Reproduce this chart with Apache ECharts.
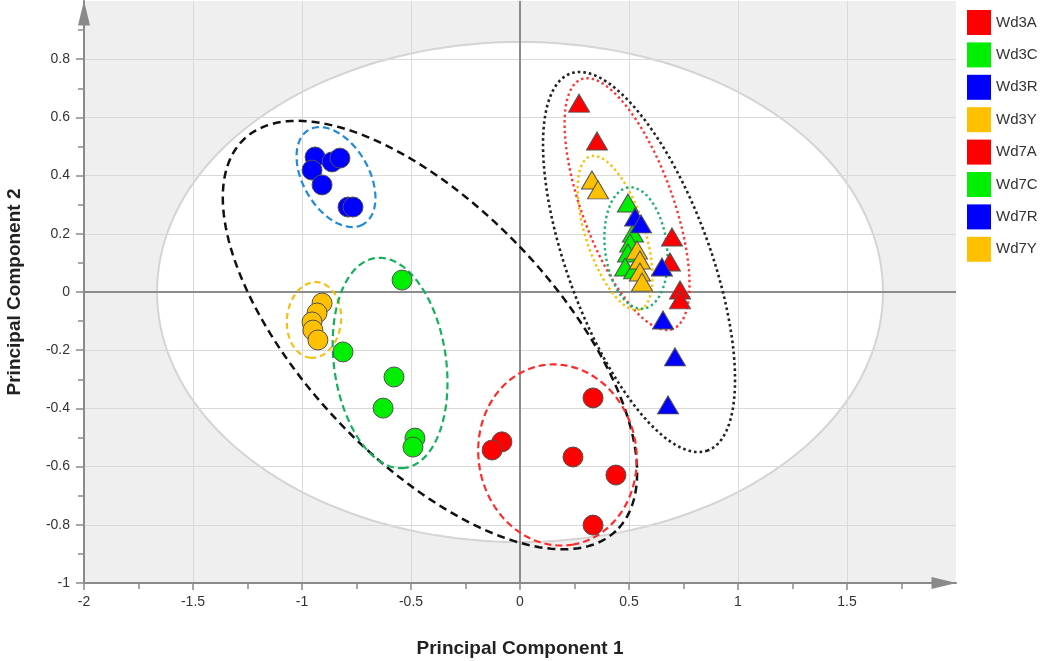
<!DOCTYPE html>
<html>
<head>
<meta charset="utf-8">
<script src="https://cdn.jsdelivr.net/npm/echarts@6/dist/echarts.min.js"></script>
<style>html,body{margin:0;padding:0;background:#fff}#c{width:1050px;height:661px}</style>
</head>
<body>
<div id="c"></div>
<script>
// ---- Data (PC1, PC2) ----
const seriesNames = ['Wd3A','Wd3C','Wd3R','Wd3Y','Wd7A','Wd7C','Wd7R','Wd7Y'];
const wd3A = [[0.335,-0.364],[-0.083,-0.515],[-0.128,-0.543],[0.243,-0.567],[0.440,-0.629],[0.335,-0.801]];
const wd3C = [[-0.541,0.041],[-0.812,-0.206],[-0.578,-0.292],[-0.628,-0.399],[-0.482,-0.502],[-0.491,-0.533]];
const wd3R = [[-0.940,0.464],[-0.862,0.447],[-0.826,0.460],[-0.954,0.419],[-0.908,0.368],[-0.789,0.292],[-0.766,0.292]];
const wd3Y = [[-0.908,-0.038],[-0.931,-0.072],[-0.954,-0.103],[-0.950,-0.131],[-0.927,-0.165]];
const wd7A = [[0.271,0.649],[0.353,0.519],[0.697,0.189],[0.688,0.103],[0.734,0.007],[0.734,-0.027]];
const wd7C = [[0.495,0.306],[0.518,0.203],[0.505,0.168],[0.495,0.134],[0.482,0.086],[0.523,0.076]];
const wd7R = [[0.528,0.258],[0.555,0.234],[0.651,0.086],[0.656,-0.096],[0.711,-0.223],[0.679,-0.388]];
const wd7Y = [[0.330,0.385],[0.358,0.351],[0.537,0.144],[0.550,0.110],[0.550,0.069],[0.560,0.034]];

// confidence ellipses: [centerX, centerY, semiMajor, semiMinor (in PC1 units), angle deg]
const hotellingEllipse = [[0, 0, 1.665, 1.147, 0]];
const groupEllipses = [
  [-0.413,-0.148,1.239,0.578,46.5], // Wd3 all
  [-0.844, 0.395,0.250,0.151,60],   // Wd3R
  [-0.945,-0.096,0.174,0.124,95],   // Wd3Y
  [-0.596,-0.244,0.486,0.257,82],   // Wd3C
  [ 0.172,-0.560,0.417,0.362,80],   // Wd3A
  [ 0.546, 0.103,0.920,0.328,70],   // Wd7 all
  [ 0.491, 0.302,0.610,0.209,70],   // Wd7A
  [ 0.436, 0.203,0.369,0.135,72],   // Wd7Y
  [ 0.532, 0.151,0.280,0.142,83]    // Wd7C
];
const xTicks = {min:-2, max:2, interval:0.5};
const yTicks = {min:-1, max:1, interval:0.2};
const xTickValues = [-2,-1.5,-1,-0.5,0,0.5,1,1.5];
const yTickValues = [-1,-0.8,-0.6,-0.4,-0.2,0,0.2,0.4,0.6,0.8];

// ---- Styles ----
const ellipseStyles = [
  {stroke:'#111111', lineWidth:2.5, lineDash:[8,5]},
  {stroke:'#1f8ad8', lineWidth:2.2, lineDash:[7,4]},
  {stroke:'#f4c010', lineWidth:2.2, lineDash:[6,4]},
  {stroke:'#14b05c', lineWidth:2.2, lineDash:[7,4]},
  {stroke:'#ff2a2a', lineWidth:2.2, lineDash:[7,4]},
  {stroke:'#222222', lineWidth:2.6, lineDash:[2.6,3]},
  {stroke:'#ff3535', lineWidth:2.4, lineDash:[2.4,3]},
  {stroke:'#f6c200', lineWidth:2.4, lineDash:[2.4,3]},
  {stroke:'#1cb070', lineWidth:2.4, lineDash:[2.4,3]}
];
const colors = {Wd3A:'#ff0000',Wd3C:'#00ee00',Wd3R:'#0000ff',Wd3Y:'#ffc000',Wd7A:'#ff0000',Wd7C:'#00ee00',Wd7R:'#0000ff',Wd7Y:'#ffc000'};
const seriesData = {Wd3A:wd3A,Wd3C:wd3C,Wd3R:wd3R,Wd3Y:wd3Y,Wd7A:wd7A,Wd7C:wd7C,Wd7R:wd7R,Wd7Y:wd7Y};

function ellipsePoints(api) {
  const cx = api.value(0), cy = api.value(1), a = api.value(2), b = api.value(3);
  const ang = api.value(4) * Math.PI / 180;
  const c = api.coord([cx, cy]);
  const s = api.size([1, 0])[0];
  const pts = [];
  const N = 180;
  for (let i = 0; i < N; i++) {
    const t = i / N * 2 * Math.PI;
    const u = a * s * Math.cos(t), v = b * s * Math.sin(t);
    pts.push([c[0] + u * Math.cos(ang) - v * Math.sin(ang), c[1] + u * Math.sin(ang) + v * Math.cos(ang)]);
  }
  return pts;
}

const series = [];
series.push({
  type:'custom', z:0, silent:true, data:hotellingEllipse, dimensions:['x','y','a','b','ang'],
  encode:{x:0,y:1},
  renderItem:function(params, api){
    return {type:'polygon', shape:{points:ellipsePoints(api)}, style:{fill:'#ffffff', stroke:'#d4d4d4', lineWidth:2}};
  }
});
series.push({
  type:'custom', z:1.5, silent:true, data:[[0,0]], encode:{x:0,y:1},
  renderItem:function(params, api){
    const cs = params.coordSys;
    const c = api.coord([api.value(0), api.value(1)]);
    const st = {stroke:'#8c8c8c', lineWidth:2};
    return {type:'group', children:[
      {type:'line', shape:{x1:cs.x, y1:c[1], x2:cs.x+cs.width, y2:c[1]}, style:st},
      {type:'line', shape:{x1:c[0], y1:cs.y, x2:c[0], y2:cs.y+cs.height}, style:st}
    ]};
  }
});
series.push({
  type:'custom', z:1.6, silent:true, data:groupEllipses, dimensions:['x','y','a','b','ang'],
  encode:{x:0,y:1},
  renderItem:function(params, api){
    const st = Object.assign({fill:'none'}, ellipseStyles[params.dataIndex]);
    return {type:'polygon', shape:{points:ellipsePoints(api)}, style:st};
  }
});
seriesNames.forEach(function(n){
  const tri = n.indexOf('Wd7') === 0;
  series.push({
    name:n, type:'scatter', z:2, data:seriesData[n],
    symbol: tri ? 'triangle' : 'circle',
    symbolSize: tri ? [21,18] : 20,
    itemStyle:{color:colors[n], borderColor:'#505050', borderWidth:1, opacity:1},
    emphasis:{disabled:true}
  });
});

const axisColor = '#8a8a8a';
const chart = echarts.init(document.getElementById('c'), null, {renderer:'canvas'});
chart.setOption({
  animation:false,
  backgroundColor:'#ffffff',
  textStyle:{fontFamily:'"Liberation Sans", Arial, sans-serif'},
  grid:{left:84, right:94, top:1, bottom:78, containLabel:false, outerBoundsMode:'none', show:true, backgroundColor:'#efefef', borderWidth:0},
  legend:{
    orient:'vertical', left:962, top:5, itemWidth:24, itemHeight:25, itemGap:7.4,
    icon:'rect', data:seriesNames, selectedMode:false,
    itemStyle:{borderWidth:0},
    textStyle:{fontSize:15, color:'#333333', fontFamily:'"Liberation Sans", Arial, sans-serif'}
  },
  xAxis:{
    type:'value', min:xTicks.min, max:xTicks.max, interval:xTicks.interval, z:1,
    axisLine:{show:true, onZero:false, lineStyle:{color:axisColor, width:2}, symbol:['none','triangle'], symbolSize:[12,25], symbolOffset:[0,-12]},
    axisTick:{show:true, length:7, customValues:xTickValues, lineStyle:{color:axisColor, width:1.5}},
    minorTick:{show:true, splitNumber:2, length:6, lineStyle:{color:axisColor, width:1.5}},
    splitLine:{show:true, lineStyle:{color:'#d9d9d9', width:1}},
    axisLabel:{fontSize:14, color:'#333333', margin:12, showMaxLabel:false},
    name:'Principal Component 1', nameLocation:'middle', nameGap:56,
    nameTextStyle:{fontSize:19, fontWeight:'bold', color:'#222222'}
  },
  yAxis:{
    type:'value', min:yTicks.min, max:yTicks.max, interval:yTicks.interval, z:1,
    axisLine:{show:true, onZero:false, lineStyle:{color:axisColor, width:2}, symbol:['none','triangle'], symbolSize:[12,25], symbolOffset:[0,-12]},
    axisTick:{show:true, length:8, customValues:yTickValues, lineStyle:{color:axisColor, width:1.5}},
    minorTick:{show:true, splitNumber:2, length:6, lineStyle:{color:axisColor, width:1.5}},
    splitLine:{show:true, lineStyle:{color:'#d9d9d9', width:1}},
    axisLabel:{fontSize:14, color:'#333333', margin:14, showMaxLabel:false},
    name:'Principal Component 2', nameLocation:'middle', nameGap:60,
    nameTextStyle:{fontSize:19, fontWeight:'bold', color:'#222222'}
  },
  series:series
});
</script>
</body>
</html>
